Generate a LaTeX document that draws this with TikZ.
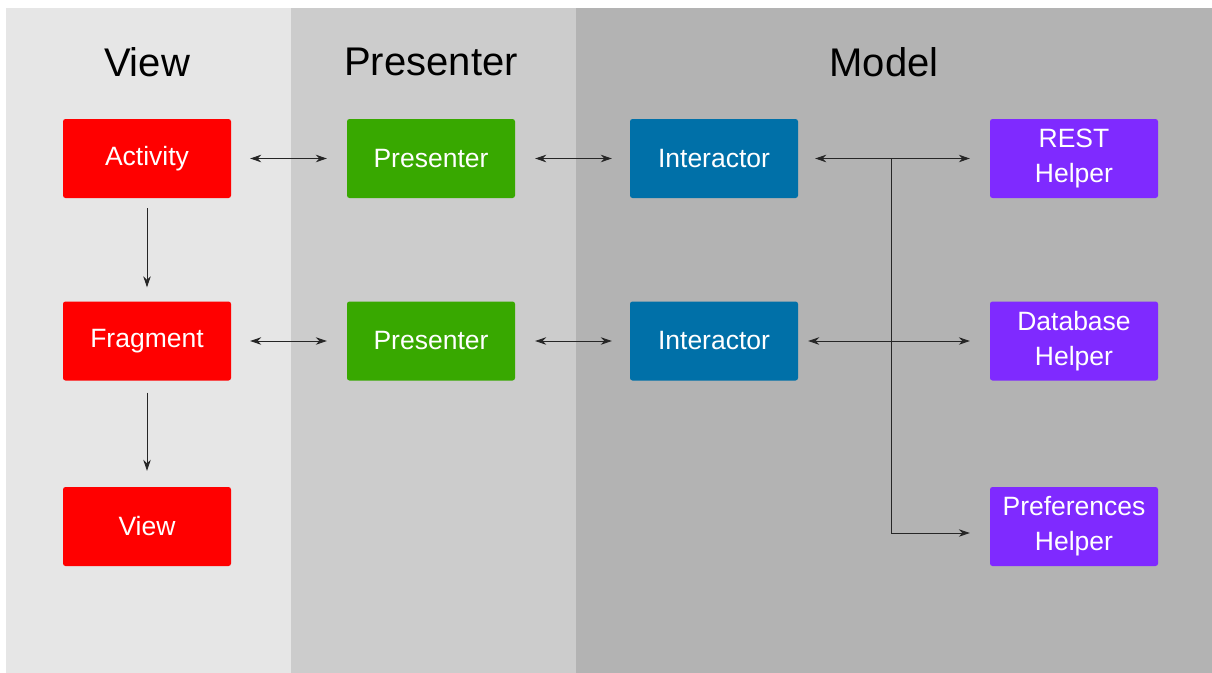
\documentclass[tikz,border=0pt]{standalone}
\usepackage{fontspec}
\setmainfont{Liberation Sans}
\usetikzlibrary{arrows.meta}

\definecolor{viewbg}{HTML}{E6E6E6}
\definecolor{presbg}{HTML}{CCCCCC}
\definecolor{modelbg}{HTML}{B3B3B3}
\definecolor{viewred}{HTML}{FF0000}
\definecolor{presgreen}{HTML}{38A800}
\definecolor{intblue}{HTML}{0070A8}
\definecolor{helppurple}{HTML}{7F2AFF}

\begin{document}
\begin{tikzpicture}[
        x=1pt, y=-1pt,
        >={Stealth[length=11pt,width=7.5pt]},
        box/.style={
            rounded corners=2.5pt,
            minimum width=168pt,
            minimum height=79pt,
            inner sep=0pt,
            text=white,
            align=center,
            font=\fontsize{26.5}{35}\selectfont},
        title/.style={font=\fontsize{40}{48}\selectfont},
        link/.style={draw=black!85, line width=0.9pt}]
        \useasboundingbox (0,0) rectangle (1212,672);
        \fill[white] (0,0) rectangle (1212,690);

        % columns
        \fill[viewbg] (6,8) rectangle (291,690);
        \fill[presbg] (291,8) rectangle (576,690);
        \fill[modelbg] (576,8) rectangle (1212,690);

        \node[title] (tview) at (147,62) {View};
        \node[title] (tpres) at (431,62) {Presenter};
        \node[title] (tmodel) at (884,62) {Model};

        % view
        \node[box, fill=viewred] (act) at (147,158.5) {Activity};
        \node[box, fill=viewred] (frag) at (147,341) {Fragment};
        \node[box, fill=viewred] (view) at (147,526.5) {View};

        % presenter
        \node[box, fill=presgreen] (presA) at (431,158.5) {Presenter};
        \node[box, fill=presgreen] (presB) at (431,341) {Presenter};

        % model
        \node[box, fill=intblue] (intA) at (714,158.5) {Interactor};
        \node[box, fill=intblue] (intB) at (714,341) {Interactor};
        \node[box, fill=helppurple] (rest) at (1074,158.5) {REST\\Helper};
        \node[box, fill=helppurple] (db) at (1074,341) {Database\\Helper};
        \node[box, fill=helppurple] (pref) at (1074,526.5) {Preferences\\Helper};

        \coordinate (branch) at (891,158);

        \draw[link, ->, shorten <=10pt, shorten >=14pt] (act) -- (frag);
        \draw[link, ->, shorten <=12pt, shorten >=16pt] (frag) -- (view);

        \draw[link, <->, shorten <=19pt, shorten >=20pt] (act) -- (presA);
        \draw[link, <->, shorten <=19pt, shorten >=20pt] (frag) -- (presB);
        \draw[link, <->, shorten <=20pt, shorten >=18pt] (presA) -- (intA);
        \draw[link, <->, shorten <=20pt, shorten >=18pt] (presB) -- (intB);
        \draw[link, <->, shorten <=17pt, shorten >=20pt] (intA) -- (rest);
        \draw[link, <->, shorten <=10pt, shorten >=20pt] (intB) -- (db);
        \draw[link, ->, shorten >=20pt] (branch) |- ([yshift=-6.5pt]pref.west);
    \end{tikzpicture}
\end{document}
